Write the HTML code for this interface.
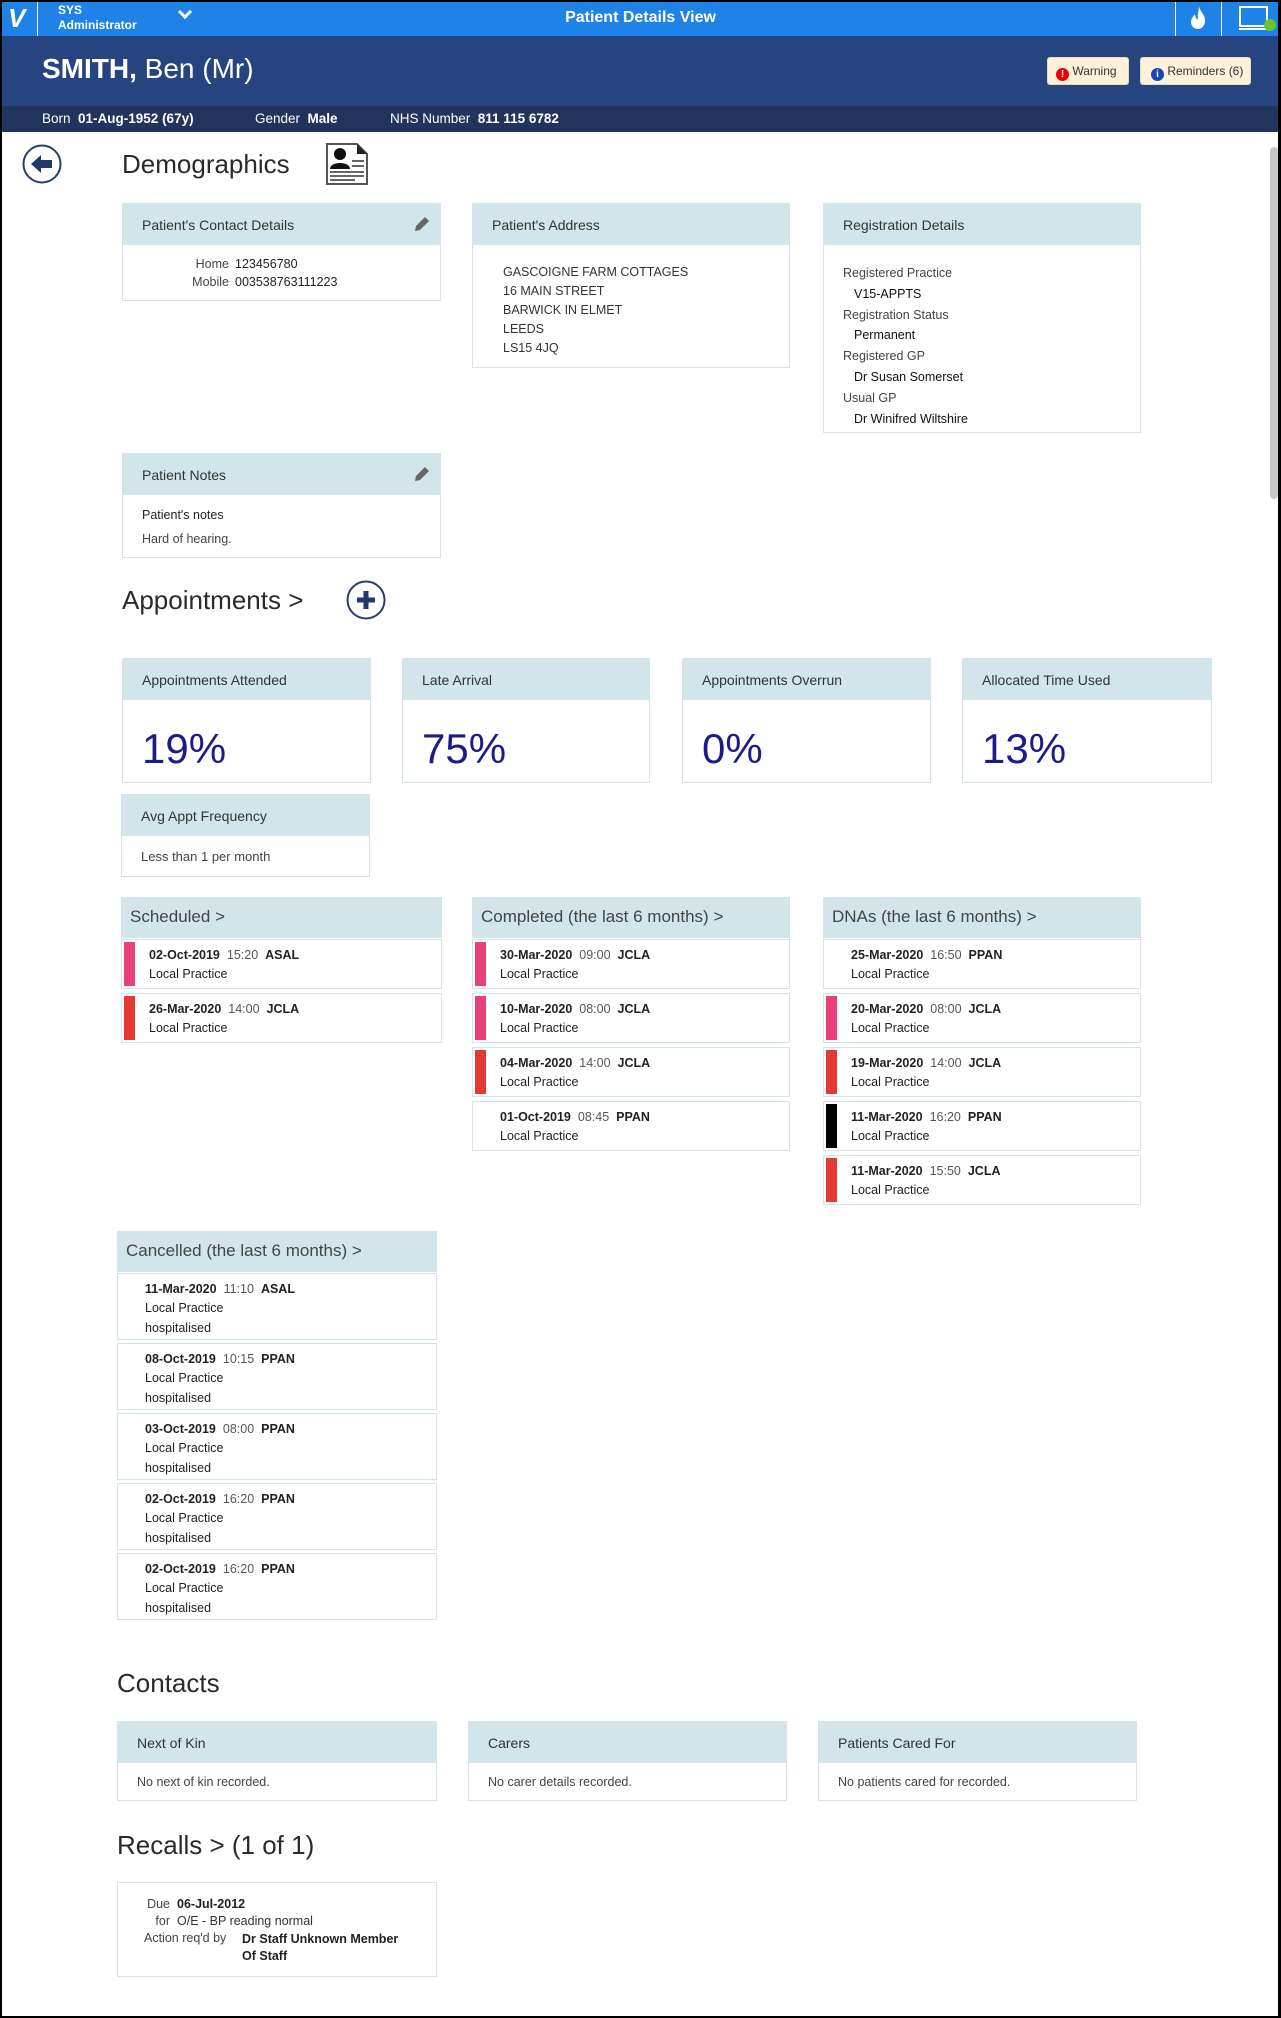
<!DOCTYPE html>
<html><head><meta charset="utf-8"><style>
*{box-sizing:border-box;margin:0;padding:0}
body{width:1281px;height:2018px;position:relative;overflow:hidden;background:#fff;font-family:"Liberation Sans",sans-serif;color:#222}
.a{position:absolute}
.frame{left:0;top:0;width:1281px;height:2018px;border:2px solid #000;border-right-width:3px;pointer-events:none;z-index:10}
.card{position:absolute;border:1px solid #d3e3e9;background:#fff}
.hd{background:#d2e5ea;height:41px;font-size:14px;color:#333;padding:13px 0 0 19px;white-space:nowrap}
.ph{background:#d2e5ea;height:41px;font-size:17px;color:#444;padding:10px 0 0 9px;white-space:nowrap}
.row{position:absolute;left:0;right:0;border:1px solid #d3e3e9;background:#fff;font-size:12.5px;color:#222}
.bar{position:absolute;left:2px;top:2px;bottom:2px;width:11px}
.l1{position:absolute;left:27px;top:8px;white-space:nowrap}
.l1 b{font-weight:bold}.l1 span{color:#555;margin:0 7px}
.l2{position:absolute;left:27px;top:27px;white-space:nowrap}
.l3{position:absolute;left:27px;top:47px;white-space:nowrap}
.big{font-size:42px;color:#1b1b8a;position:absolute;left:19px;top:66px;font-weight:300}
.ttl{position:absolute;font-size:26px;color:#2a2a2a;white-space:nowrap}
.sm{font-size:12.5px;position:absolute;white-space:nowrap}
</style></head><body>
<div class="a frame"></div>

<div class="a" style="left:0;top:0;width:1281px;height:36px;background:#1e82e6">
 <div class="a" style="left:8px;top:3px;color:#fff;font-size:26px;font-weight:bold;font-style:italic">V</div>
 <div class="a" style="left:37px;top:2px;width:1px;height:34px;background:#fff"></div>
 <div class="a" style="left:58px;top:3px;color:#fff;font-size:12px;font-weight:bold;line-height:15px">SYS<br>Administrator</div>
 <div class="a" style="left:180px;top:7px;width:10px;height:10px;border-right:3px solid #fff;border-bottom:3px solid #fff;transform:rotate(45deg)"></div>
 <div class="a" style="left:0;width:1281px;top:9px;text-align:center;color:#fff;font-size:16px;font-weight:bold">Patient Details View</div>
 <div class="a" style="left:1175px;top:2px;width:1px;height:34px;background:#fff"></div>
 <div class="a" style="left:1221px;top:2px;width:1px;height:34px;background:#fff"></div>
 <svg class="a" style="left:1190px;top:6px" width="16" height="24" viewBox="0 0 16 24"><path d="M9 0C10 6 16 9 15 16 14 21 11 23 8 23 4 23 1 20 1 16 1 12 4 10 5 8 5 12 7 13 8 14 7 9 9 5 9 0Z" fill="#fff"/></svg>
 <svg class="a" style="left:1239px;top:6px" width="40" height="26"><rect x="1" y="1" width="27" height="19" fill="none" stroke="#fff" stroke-width="2"/><rect x="0" y="22" width="30" height="2" fill="#fff"/><circle cx="31" cy="19" r="6" fill="#6cc427"/></svg>
</div>

<div class="a" style="left:0;top:36px;width:1281px;height:70px;background:#26447f">
 <div class="a" style="left:42px;top:17px;color:#fff;font-size:28px;white-space:nowrap"><b>SMITH,</b> Ben (Mr)</div>
 <div class="a" style="left:1047px;top:21px;width:82px;height:28px;background:#fdf1d8;border:1px solid #e6d9bd;border-radius:3px;font-size:12px;color:#333;padding:6px 0 0 8px;white-space:nowrap"><span style="display:inline-block;width:13px;height:13px;border-radius:50%;background:#e00;color:#fff;font-size:10px;font-weight:bold;text-align:center;line-height:13px;vertical-align:-2px">!</span> Warning</div>
 <div class="a" style="left:1140px;top:21px;width:111px;height:28px;background:#fdf1d8;border:1px solid #e6d9bd;border-radius:3px;font-size:12px;color:#333;padding:6px 0 0 10px;white-space:nowrap"><span style="display:inline-block;width:13px;height:13px;border-radius:50%;background:#1646b4;color:#fff;font-size:10px;font-weight:bold;text-align:center;line-height:13px;vertical-align:-2px">i</span> Reminders (6)</div>
</div>
<div class="a" style="left:0;top:106px;width:1281px;height:26px;background:#21345e;color:#fff;font-size:13.5px;white-space:nowrap">
 <div class="a" style="left:42px;top:5px">Born&nbsp; <b>01-Aug-1952 (67y)</b></div>
 <div class="a" style="left:255px;top:5px">Gender&nbsp; <b>Male</b></div>
 <div class="a" style="left:390px;top:5px">NHS Number&nbsp; <b>811 115 6782</b></div>
</div>

<div class="a" style="left:1270px;top:147px;width:8px;height:352px;background:#c8c8c8;border-radius:4px"></div>

<svg class="a" style="left:22px;top:144px" width="40" height="40"><circle cx="20" cy="20" r="18.5" fill="#fff" stroke="#2a3f66" stroke-width="2"/><path d="M9 20 L19 11 L19 16 L30 16 L30 24 L19 24 L19 29 Z" fill="#1f3a68"/></svg>
<div class="ttl" style="left:122px;top:149px">Demographics</div>
<svg class="a" style="left:326px;top:143px" width="43" height="42"><path d="M1 1 H31 L41 11 V41 H1 Z" fill="#fff" stroke="#555" stroke-width="2"/><path d="M31 1 L41 11 H31 Z" fill="#222"/><circle cx="14" cy="11" r="6" fill="#111"/><path d="M4 26 C4 18 24 18 24 26 Z" fill="#111"/><g fill="#666"><rect x="26" y="17" width="12" height="2"/><rect x="26" y="22" width="12" height="2"/><rect x="4" y="28" width="34" height="2"/><rect x="4" y="32" width="34" height="2"/><rect x="4" y="36" width="25" height="2"/></g></svg>

<div class="card" style="left:122px;top:203px;width:319px;height:98px">
 <div class="hd">Patient's Contact Details</div>
 <svg class="a" style="left:289px;top:10px" width="20" height="20"><path d="M3 17 L4 12 L13 3 L17 7 L8 16 Z" fill="#666"/></svg>
 <div class="sm" style="left:0;width:106px;text-align:right;top:53px;color:#444">Home</div><div class="sm" style="left:112px;top:53px">123456780</div>
 <div class="sm" style="left:0;width:106px;text-align:right;top:71px;color:#444">Mobile</div><div class="sm" style="left:112px;top:71px">003538763111223</div>
</div>

<div class="card" style="left:472px;top:203px;width:318px;height:165px">
 <div class="hd">Patient's Address</div>
 <div class="sm" style="left:30px;top:59px;line-height:19px;color:#333">GASCOIGNE FARM COTTAGES<br>16 MAIN STREET<br>BARWICK IN ELMET<br>LEEDS<br>LS15 4JQ</div>
</div>

<div class="card" style="left:823px;top:203px;width:318px;height:230px">
 <div class="hd">Registration Details</div>
 <div class="sm" style="left:19px;top:59px;line-height:20.8px;color:#444">Registered Practice<br><span style="margin-left:11px;color:#111">V15-APPTS</span><br>Registration Status<br><span style="margin-left:11px;color:#111">Permanent</span><br>Registered GP<br><span style="margin-left:11px;color:#111">Dr Susan Somerset</span><br>Usual GP<br><span style="margin-left:11px;color:#111">Dr Winifred Wiltshire</span></div>
</div>

<div class="card" style="left:122px;top:453px;width:319px;height:105px">
 <div class="hd">Patient Notes</div>
 <svg class="a" style="left:289px;top:10px" width="20" height="20"><path d="M3 17 L4 12 L13 3 L17 7 L8 16 Z" fill="#666"/></svg>
 <div class="sm" style="left:19px;top:54px">Patient's notes</div>
 <div class="sm" style="left:19px;top:78px;color:#444">Hard of hearing.</div>
</div>

<div class="ttl" style="left:122px;top:585px">Appointments &gt;</div>
<svg class="a" style="left:346px;top:580px" width="40" height="40"><circle cx="20" cy="20" r="18.5" fill="#fff" stroke="#2a3f66" stroke-width="2"/><rect x="11" y="17.5" width="18" height="5" fill="#1f3a68"/><rect x="17.5" y="11" width="5" height="18" fill="#1f3a68"/></svg>

<div class="card" style="left:122px;top:658px;width:249px;height:125px"><div class="hd">Appointments Attended</div><div class="big">19%</div></div>
<div class="card" style="left:402px;top:658px;width:248px;height:125px"><div class="hd">Late Arrival</div><div class="big">75%</div></div>
<div class="card" style="left:682px;top:658px;width:249px;height:125px"><div class="hd">Appointments Overrun</div><div class="big">0%</div></div>
<div class="card" style="left:962px;top:658px;width:250px;height:125px"><div class="hd">Allocated Time Used</div><div class="big">13%</div></div>
<div class="card" style="left:121px;top:794px;width:249px;height:83px"><div class="hd">Avg Appt Frequency</div><div class="sm" style="left:19px;top:54px;color:#444;font-size:13px">Less than 1 per month</div></div>

<div id="panels"></div>

<div class="ttl" style="left:117px;top:1668px">Contacts</div>
<div class="card" style="left:117px;top:1721px;width:320px;height:80px"><div class="hd">Next of Kin</div><div class="sm" style="left:19px;top:53px;color:#444">No next of kin recorded.</div></div>
<div class="card" style="left:468px;top:1721px;width:319px;height:80px"><div class="hd">Carers</div><div class="sm" style="left:19px;top:53px;color:#444">No carer details recorded.</div></div>
<div class="card" style="left:818px;top:1721px;width:319px;height:80px"><div class="hd">Patients Cared For</div><div class="sm" style="left:19px;top:53px;color:#444">No patients cared for recorded.</div></div>

<div class="ttl" style="left:117px;top:1830px">Recalls &gt; (1 of 1)</div>
<div class="card" style="left:117px;top:1882px;width:320px;height:95px">
 <div class="sm" style="left:0;width:52px;text-align:right;top:14px;color:#444">Due</div><div class="sm" style="left:59px;top:14px"><b>06-Jul-2012</b></div>
 <div class="sm" style="left:0;width:52px;text-align:right;top:31px;color:#444">for</div><div class="sm" style="left:59px;top:31px;color:#333">O/E - BP reading normal</div>
 <div class="sm" style="left:26px;top:48px;color:#444">Action req'd by</div><div class="sm" style="left:124px;top:48px;line-height:17px"><b>Dr Staff Unknown Member<br>Of Staff</b></div>
</div>

<script>
const panelTitles=["Scheduled >","Completed (the last 6 months) >","DNAs (the last 6 months) >","Cancelled (the last 6 months) >"];
const scheduledRows=[["02-Oct-2019","15:20","ASAL","pink"],["26-Mar-2020","14:00","JCLA","red"]];
const completedRows=[["30-Mar-2020","09:00","JCLA","pink"],["10-Mar-2020","08:00","JCLA","pink"],["04-Mar-2020","14:00","JCLA","red"],["01-Oct-2019","08:45","PPAN",""]];
const dnaRows=[["25-Mar-2020","16:50","PPAN",""],["20-Mar-2020","08:00","JCLA","pink"],["19-Mar-2020","14:00","JCLA","red"],["11-Mar-2020","16:20","PPAN","black"],["11-Mar-2020","15:50","JCLA","red"]];
const cancelledRows=[["11-Mar-2020","11:10","ASAL",""],["08-Oct-2019","10:15","PPAN",""],["03-Oct-2019","08:00","PPAN",""],["02-Oct-2019","16:20","PPAN",""],["02-Oct-2019","16:20","PPAN",""]];
const colors={pink:"#e8407a",red:"#e53935",black:"#000"};
const host=document.getElementById('panels');
function panel(name,title,rows,x,y,w,rowH,pitch,reason){
 const p=document.createElement('div');p.className='a';
 
 
 p.style.cssText=`left:${x}px;top:${y}px;width:${w}px`;
 const h=document.createElement('div');h.className='ph';h.textContent=title;
 
 
 p.appendChild(h);
 rows.forEach((r,i)=>{
  const d=document.createElement('div');d.className='row';
  
  
  d.style.top=(42+i*pitch)+'px';d.style.height=rowH+'px';
  let s='';
  if(r[3])s+=`<div class="bar" style="background:${colors[r[3]]}"></div>`;
  s+=`<div class="l1"><b>${r[0]}</b><span>${r[1]}</span><b>${r[2]}</b></div><div class="l2">Local Practice</div>`;
  if(reason)s+=`<div class="l3">hospitalised</div>`;
  d.innerHTML=s;p.appendChild(d);
 });
 host.appendChild(p);
}
panel('scheduled-panel',panelTitles[0],scheduledRows,121,897,321,50,54,false);
panel('completed-panel',panelTitles[1],completedRows,472,897,318,50,54,false);
panel('dnas-panel',panelTitles[2],dnaRows,823,897,318,50,54,false);
panel('cancelled-panel',panelTitles[3],cancelledRows,117,1231,320,67,70,true);
</script>
</body></html>
